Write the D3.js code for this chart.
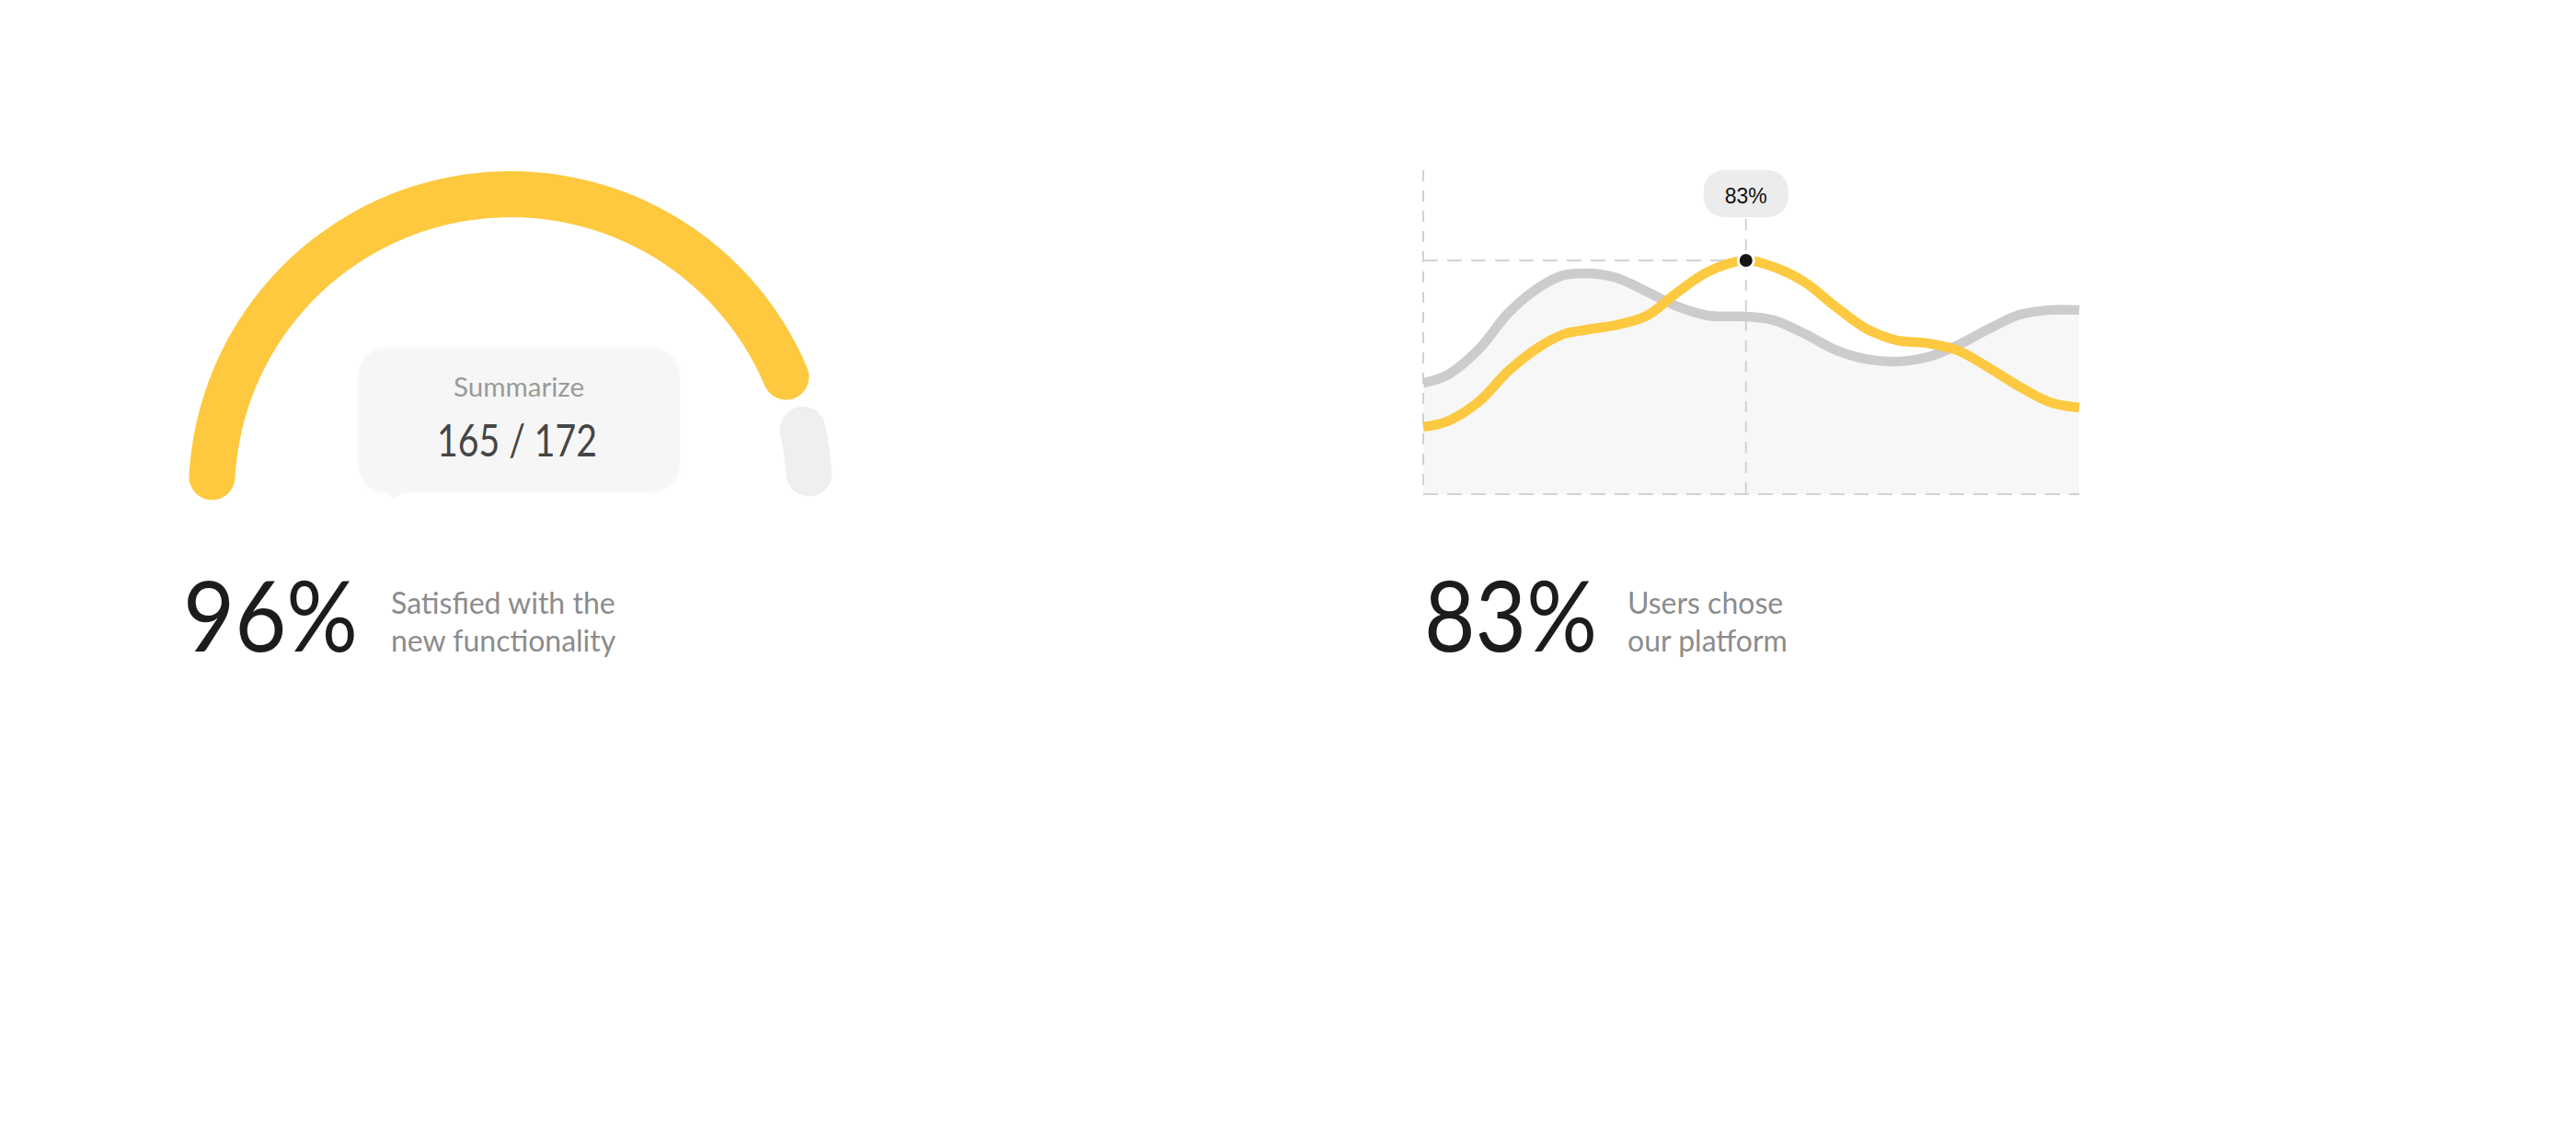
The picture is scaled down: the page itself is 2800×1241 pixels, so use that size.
<!DOCTYPE html>
<html>
<head>
<meta charset="utf-8">
<script src="https://cdn.jsdelivr.net/npm/d3@7/dist/d3.min.js"></script>
<style>
  html, body { margin: 0; padding: 0; background: #ffffff; }
  svg { display: block; }
</style>
</head>
<body>
<script>
// ---------- DATA ----------
const gaugeCount = 165;
const gaugeTotal = 172;
const gaugePercentLabel = "96%";
const gaugeCaption = ["Satisfied with the", "new functionality"];
const gaugeTitle = "Summarize";
const gaugeShares = [0.9, 0.1];           // visible filled / remaining share of the arc
const gaugeColors = ["#fec93f", "#efefef"];

// x positions as % of the plot width
const lineX        = [0, 3.6, 8.4, 13.0, 17.7, 21.5, 25.2, 29.5, 34.1, 38.7, 43.5, 49.2, 53.4, 58.2, 62.8, 67.5, 72.2, 76.9, 81.5, 86.3, 90.9, 95.5, 100];
const seriesGray   = [39.5, 42.2, 51.3, 64.4, 73.5, 77.8, 78.4, 76.8, 71.9, 66.7, 63.4, 63.1, 61.8, 56.9, 51.3, 48.0, 47.1, 48.7, 52.9, 58.8, 63.7, 65.4, 65.4];
const seriesYellow = [23.9, 25.8, 32.7, 43.8, 52.3, 56.9, 58.5, 60.1, 63.4, 71.6, 79.1, 83.0, 80.7, 75.2, 66.7, 58.8, 54.6, 53.6, 51.0, 44.8, 38.2, 32.7, 30.7];
const highlightIndex = 11;
const highlightLabel = "83%";
const lineBigLabel = "83%";
const lineCaption = ["Users chose", "our platform"];

// ---------- SETUP ----------
const W = 2800, H = 1241;
const svg = d3.select("body").append("svg").attr("width", W).attr("height", H);
const FONT = "Lato, 'Open Sans', sans-serif";

// ---------- GAUGE ----------
const gcx = 555, gcy = 536, rIn = 300, rOut = 350;
const angle = d3.scaleLinear().domain([0, 1]).range([-91.3 * Math.PI / 180, 90.6 * Math.PI / 180]);
const gapHalf = 0.9 * Math.PI / 180;
const arcGen = d3.arc().innerRadius(rIn).outerRadius(rOut).cornerRadius((rOut - rIn) / 2);
const g = svg.append("g").attr("transform", `translate(${gcx},${gcy})`);
let acc = 0;
const segs = gaugeShares.map((s, i) => {
  const a0 = angle(acc) + (i > 0 ? gapHalf : 0);
  acc += s;
  const a1 = angle(acc) - (i < gaugeShares.length - 1 ? gapHalf : 0);
  return { startAngle: a0, endAngle: a1, color: gaugeColors[i] };
});
g.selectAll("path.seg").data(segs).join("path")
  .attr("class", "seg")
  .attr("d", arcGen)
  .attr("fill", d => d.color);

// tooltip box
const defs = svg.append("defs");
const f = defs.append("filter").attr("id", "soft").attr("x", "-20%").attr("y", "-20%").attr("width", "140%").attr("height", "140%");
f.append("feGaussianBlur").attr("stdDeviation", 1.5);

const bx = 389, by = 378, bw = 350, bh = 157;
svg.append("path")
  .attr("d", `M${bx + 30},${by + bh - 2} L${bx + 52},${by + bh - 2} L${bx + 38},${by + bh + 8} Z`)
  .attr("fill", "#f6f6f6");
svg.append("rect")
  .attr("x", bx).attr("y", by).attr("width", bw).attr("height", bh)
  .attr("rx", 30).attr("ry", 30)
  .attr("fill", "#f6f6f6")
  .attr("filter", "url(#soft)");
svg.append("text")
  .attr("x", bx + bw / 2).attr("y", 431)
  .attr("text-anchor", "middle")
  .attr("font-family", FONT).attr("font-size", 28)
  .attr("textLength", 142).attr("lengthAdjust", "spacingAndGlyphs")
  .attr("fill", "#9a9a9a")
  .text(gaugeTitle);
svg.append("text")
  .attr("x", bx + bw / 2 - 2).attr("y", 496)
  .attr("text-anchor", "middle")
  .attr("font-family", FONT).attr("font-size", 48)
  .attr("textLength", 174).attr("lengthAdjust", "spacingAndGlyphs")
  .attr("fill", "#454545")
  .text(`${gaugeCount} / ${gaugeTotal}`);

// big number + caption
svg.append("text")
  .attr("x", 199).attr("y", 708)
  .attr("font-family", FONT).attr("font-size", 106)
  .attr("textLength", 190).attr("lengthAdjust", "spacingAndGlyphs")
  .attr("fill", "#1c1c1c")
  .text(gaugePercentLabel);
svg.append("g").selectAll("text").data(gaugeCaption).join("text")
  .attr("x", 425).attr("y", (d, i) => 667 + i * 41)
  .attr("font-family", FONT).attr("font-size", 32)
  .attr("fill", "#8c8c8c")
  .text(d => d);

// ---------- LINE CHART ----------
const x = d3.scaleLinear().domain([0, 100]).range([1547, 2260]);
const y = d3.scaleLinear().domain([0, 100]).range([537, 231]);
const topY = 185;
const curve = d3.curveCatmullRom.alpha(0.5);

const area = d3.area().x((d, i) => x(lineX[i])).y0(y(0)).y1(d => y(d)).curve(curve);
const line = d3.line().x((d, i) => x(lineX[i])).y(d => y(d)).curve(curve);

svg.append("path").attr("d", area(seriesGray)).attr("fill", "#f7f7f7");

const dashC = "#d2d2d2";
const hx = x(lineX[highlightIndex]), hy = y(seriesYellow[highlightIndex]);
// left vertical
svg.append("line").attr("x1", x(0)).attr("x2", x(0)).attr("y1", topY).attr("y2", y(0))
  .attr("stroke", dashC).attr("stroke-width", 2).attr("stroke-dasharray", "12 10");
// bottom
svg.append("line").attr("x1", x(0)).attr("x2", x(100)).attr("y1", y(0)).attr("y2", y(0))
  .attr("stroke", dashC).attr("stroke-width", 2).attr("stroke-dasharray", "16 10");
// highlight horizontal
svg.append("line").attr("x1", x(0)).attr("x2", hx).attr("y1", hy).attr("y2", hy)
  .attr("stroke", dashC).attr("stroke-width", 2).attr("stroke-dasharray", "16 10");
// highlight vertical
svg.append("line").attr("x1", hx).attr("x2", hx).attr("y1", 238).attr("y2", y(0))
  .attr("stroke", dashC).attr("stroke-width", 2).attr("stroke-dasharray", "12 10");

svg.append("path").attr("d", line(seriesGray)).attr("fill", "none")
  .attr("stroke", "#cccccc").attr("stroke-width", 10.5).attr("stroke-linecap", "butt");
svg.append("path").attr("d", line(seriesYellow)).attr("fill", "none")
  .attr("stroke", "#fcc940").attr("stroke-width", 10.5).attr("stroke-linecap", "butt");

svg.append("circle").attr("cx", hx).attr("cy", hy).attr("r", 8.5)
  .attr("fill", "#151515").attr("stroke", "#ffffff").attr("stroke-width", 3);

// tooltip pill
const tw = 92, th = 51;
svg.append("rect").attr("x", hx - tw / 2).attr("y", 185).attr("width", tw).attr("height", th)
  .attr("rx", 22).attr("ry", 22).attr("fill", "#ececec");
svg.append("text").attr("x", hx).attr("y", 221).attr("text-anchor", "middle")
  .attr("font-family", "'Liberation Sans', Arial, sans-serif").attr("font-size", 24)
  .attr("textLength", 46).attr("lengthAdjust", "spacingAndGlyphs")
  .attr("fill", "#111111").text(highlightLabel);

// big number + caption
svg.append("text")
  .attr("x", 1548).attr("y", 708)
  .attr("font-family", FONT).attr("font-size", 106)
  .attr("textLength", 188).attr("lengthAdjust", "spacingAndGlyphs")
  .attr("fill", "#1c1c1c")
  .text(lineBigLabel);
svg.append("g").selectAll("text").data(lineCaption).join("text")
  .attr("x", 1769).attr("y", (d, i) => 667 + i * 41)
  .attr("font-family", FONT).attr("font-size", 32)
  .attr("fill", "#8c8c8c")
  .text(d => d);
</script>
</body>
</html>
